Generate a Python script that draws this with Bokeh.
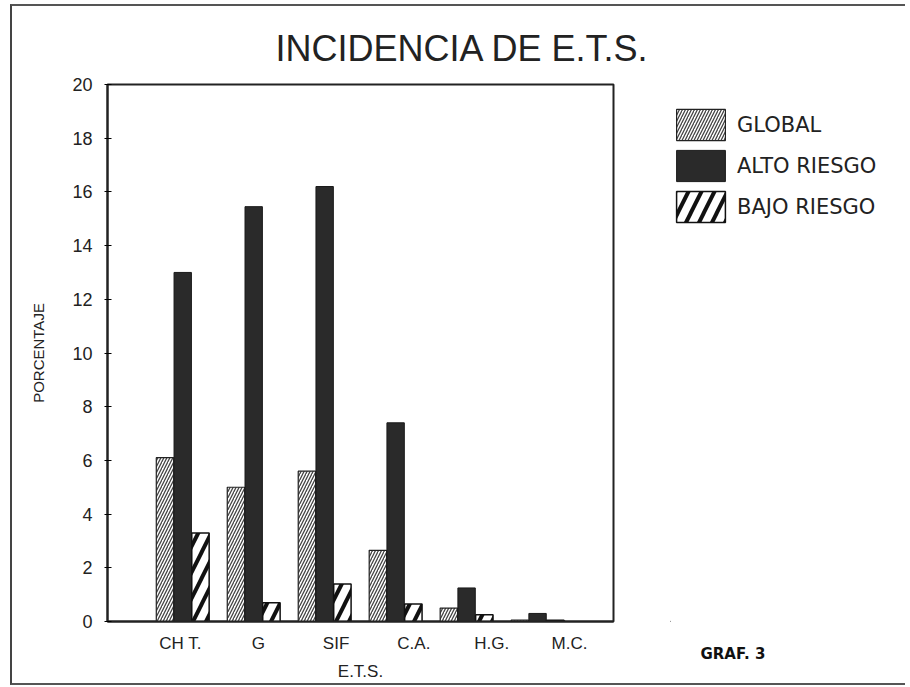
from bokeh.plotting import figure
from bokeh.models import (ColumnDataSource, Range1d, FixedTicker, Legend, LegendItem, Title,
                          LinearAxis)
from bokeh.layouts import row
from bokeh.transform import dodge
from bokeh.embed import file_html
from bokeh.resources import INLINE

categories = ["CH T.", "G", "SIF", "C.A.", "H.G.", "M.C."]
global_vals = [6.1, 5.0, 5.6, 2.65, 0.5, 0.05]
alto_vals = [13.0, 15.45, 16.2, 7.4, 1.25, 0.3]
bajo_vals = [3.3, 0.7, 1.4, 0.65, 0.25, 0.05]
y_ticks = list(range(0, 21, 2))
series_names = ["GLOBAL", "ALTO RIESGO", "BAJO RIESGO"]

xs = list(range(1, len(categories) + 1))
src = ColumnDataSource(dict(x=xs, cat=categories, g=global_vals, a=alto_vals, b=bajo_vals))

FONT = "Liberation Sans"
INK = "#222222"

STY_G = dict(fill_color="white", line_color=INK, line_width=1.2,
             hatch_pattern="/", hatch_scale=6, hatch_weight=1.3, hatch_color="#444444")
STY_A = dict(fill_color="#2a2a2a", line_color="#1a1a1a", line_width=1)
STY_B = dict(fill_color="white", line_color="#111111", line_width=1.5,
             hatch_pattern="/", hatch_scale=26, hatch_weight=4, hatch_color="#111111")

H = 677
p = figure(width=658, height=H, output_backend="svg", toolbar_location=None,
           x_range=Range1d(-0.06, 7.07), y_range=Range1d(0, 20),
           x_axis_location=None,
           min_border_left=95, min_border_top=78, min_border_right=57, min_border_bottom=61)
p.background_fill_color = "white"
p.border_fill_color = "white"
p.grid.visible = False
p.outline_line_color = INK
p.outline_line_width = 2

w = 0.245
p.vbar(x=dodge("x", -0.25, range=p.x_range), top="g", width=w, source=src, **STY_G)
p.vbar(x=dodge("x", 0.0, range=p.x_range), top="a", width=w, source=src, **STY_A)
p.vbar(x=dodge("x", 0.25, range=p.x_range), top="b", width=w, source=src, **STY_B)

# y axis
p.yaxis.ticker = FixedTicker(ticks=y_ticks)
p.yaxis.minor_tick_line_color = None
p.yaxis.major_tick_in = 4
p.yaxis.major_tick_out = 3
p.yaxis.axis_line_width = 2
p.yaxis.axis_line_color = INK
p.yaxis.major_label_text_font = FONT
p.yaxis.major_label_text_font_size = "18px"
p.yaxis.major_label_text_color = INK
p.yaxis.major_label_standoff = 12
p.yaxis.axis_label = "PORCENTAJE"
p.yaxis.axis_label_text_font = FONT
p.yaxis.axis_label_text_font_style = "normal"
p.yaxis.axis_label_text_font_size = "15px"
p.yaxis.axis_label_text_color = INK
p.yaxis.axis_label_standoff = 22

# x axis: category labels on their own label scale (wider spacing, as in the original)
p.extra_x_ranges = {"lab": Range1d(0.062, 6.566)}
xa = LinearAxis(x_range_name="lab", ticker=FixedTicker(ticks=xs),
                major_label_overrides={x: c for x, c in zip(xs, categories)})
xa.minor_tick_line_color = None
xa.major_tick_in = 0
xa.major_tick_out = 0
xa.axis_line_width = 2
xa.axis_line_color = INK
xa.major_label_text_font = FONT
xa.major_label_text_font_size = "17px"
xa.major_label_text_color = INK
xa.major_label_standoff = 12
xa.axis_label = "E.T.S."
xa.axis_label_text_font = FONT
xa.axis_label_text_font_style = "normal"
xa.axis_label_text_font_size = "17px"
xa.axis_label_text_color = INK
xa.axis_label_standoff = 6
p.add_layout(xa, "below")

# title
p.title.text = "INCIDENCIA DE E.T.S."
p.title.align = "left"
p.title.offset = 168
p.title.standoff = 28
p.title.vertical_align = "top"
p.title.text_font = FONT
p.title.text_font_style = "normal"
p.title.text_font_size = "36px"
p.title.text_color = INK

# legend panel (its frame is aligned with the main plot's frame by the row layout)
q = figure(width=235, height=H, output_backend="svg", toolbar_location=None,
           x_range=Range1d(0, 235), y_range=Range1d(0, 1),
           x_axis_location=None, y_axis_location=None,
           min_border_left=0, min_border_right=0, min_border_top=78, min_border_bottom=61)
q.grid.visible = False
q.outline_line_color = None
q.background_fill_color = "white"
q.border_fill_color = "white"
carrier = dict(x=[-100], top=[0])  # legend swatch carriers, outside the visible range
lg = q.vbar(x="x", top="top", width=0.2, source=ColumnDataSource(carrier), **STY_G)
la = q.vbar(x="x", top="top", width=0.2, source=ColumnDataSource(carrier), **STY_A)
lb = q.vbar(x="x", top="top", width=0.2, source=ColumnDataSource(carrier), **STY_B)

legend = Legend(items=[LegendItem(label=n, renderers=[r]) for n, r in zip(series_names, [lg, la, lb])],
                location=(0, 395), border_line_alpha=0, background_fill_alpha=0,
                glyph_width=61, glyph_height=39, label_height=39, spacing=2,
                label_standoff=6, label_text_font="DejaVu Sans", label_text_font_size="21px",
                label_text_baseline="middle", label_text_color=INK, margin=0, padding=0)
q.add_layout(legend)

q.add_layout(Title(text="GRAF. 3", align="left", offset=30, standoff=42, vertical_align="bottom",
                   text_font="DejaVu Sans", text_font_style="bold", text_font_size="15px",
                   text_color="#111111"), "below")

layout = row(p, q, styles={"border-top": "2px solid #555555", "border-left": "2px solid #444444",
                           "border-bottom": "2px solid #555555", "margin-left": "10px",
                           "margin-top": "4px"})

open("out.html", "w").write(file_html(layout, INLINE))
